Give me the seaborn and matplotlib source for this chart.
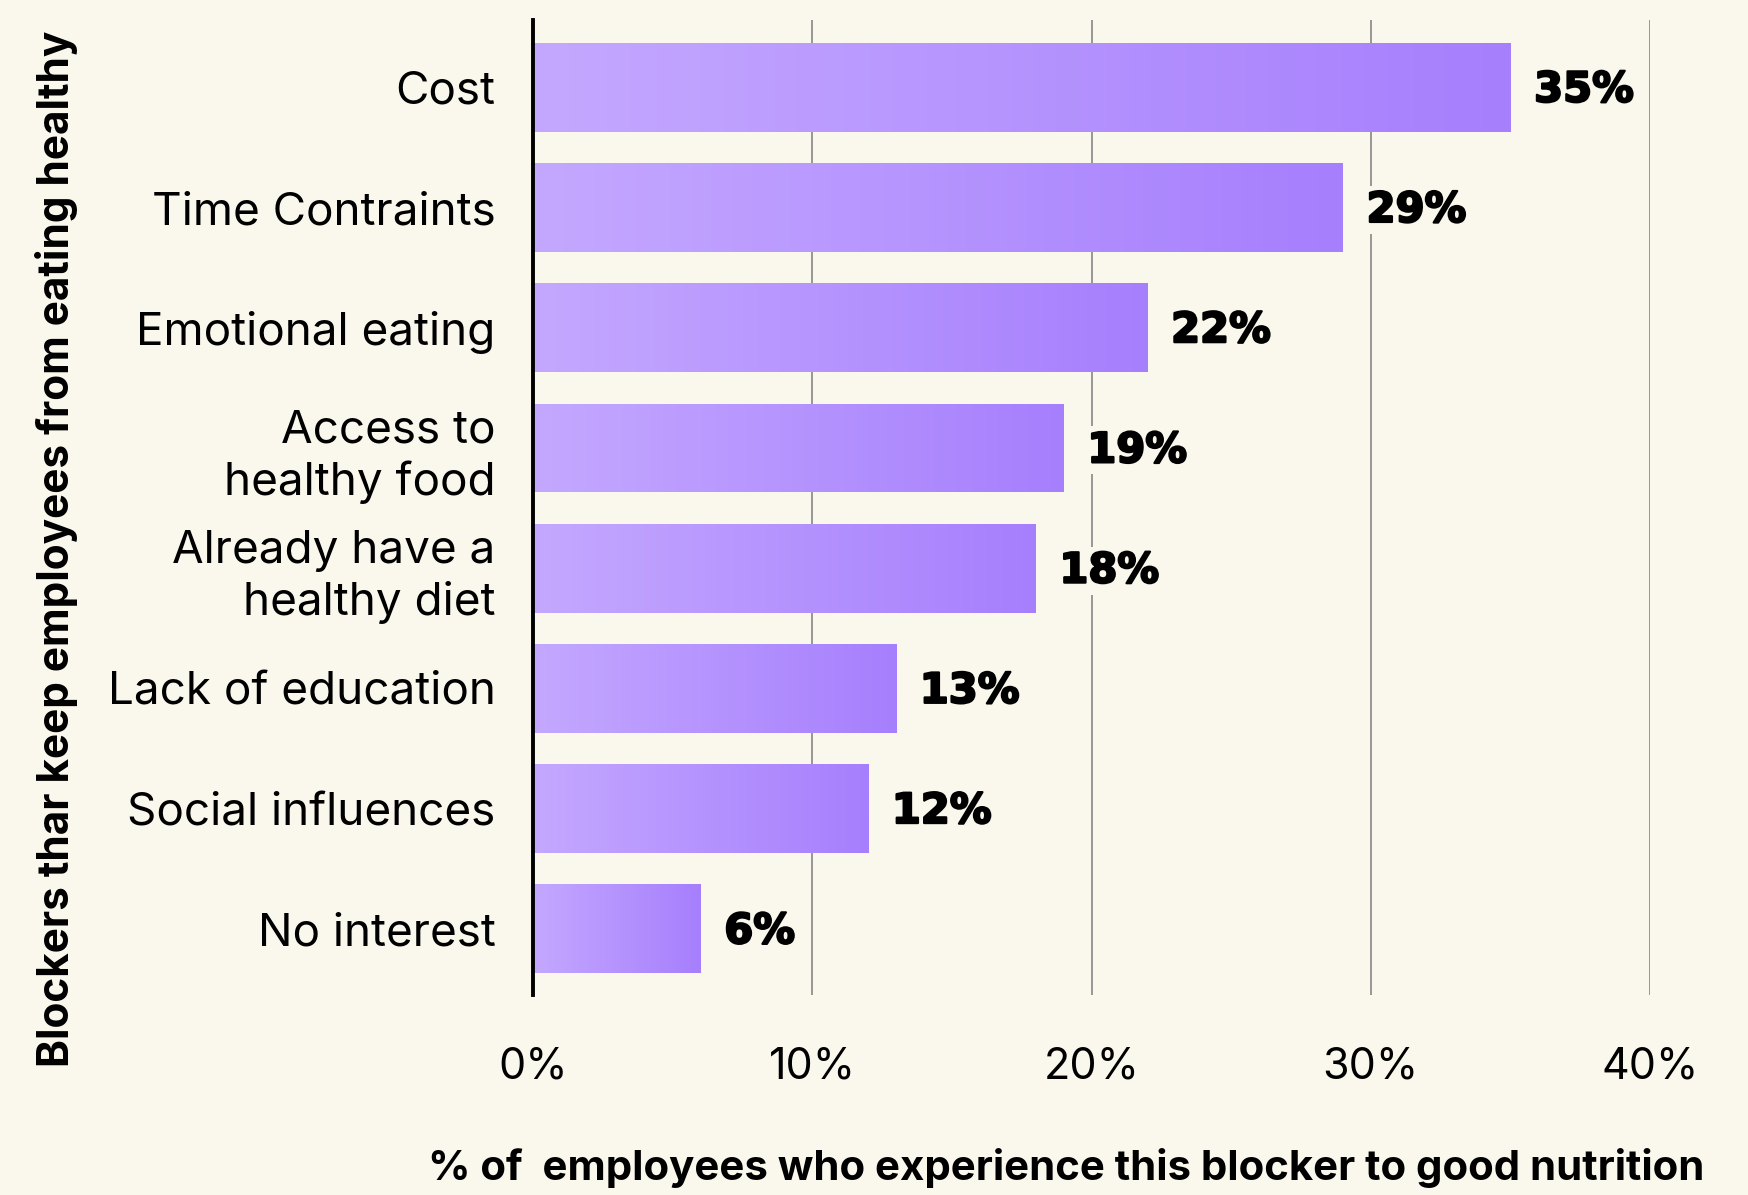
import numpy as np
import matplotlib
matplotlib.use("Agg")
import matplotlib.pyplot as plt
import matplotlib.patheffects as pe
import seaborn as sns
from matplotlib.colors import LinearSegmentedColormap

# Survey results: share of employees reporting each blocker
categories = [
    "Cost",
    "Time Contraints",
    "Emotional eating",
    "Access to\nhealthy food",
    "Already have a\nhealthy diet",
    "Lack of education",
    "Social influences",
    "No interest",
]
values = [35, 29, 22, 19, 18, 13, 12, 6]
x_ticks = [0, 10, 20, 30, 40]
x_tick_labels = ["0%", "10%", "20%", "30%", "40%"]

BG = "#faf8ec"
BAR_LIGHT = "#c4a8ff"
BAR_DARK = "#a67ffd"

sns.set_theme(style="white")
plt.rcParams["font.family"] = ["Inter", "DejaVu Sans"]
for key in ["text.color", "axes.labelcolor", "xtick.color", "ytick.color"]:
    plt.rcParams[key] = "black"

fig = plt.figure(figsize=(17.48, 11.95), dpi=100, facecolor=BG)
ax = fig.add_axes([533 / 1748, 1 - 995 / 1195, (1650 - 533) / 1748, (995 - 20) / 1195])
ax.set_facecolor(BG)

sns.barplot(x=values, y=categories, orient="h", width=0.74, color=BAR_DARK, ax=ax, zorder=2)

# Horizontal gradient fill for every bar, clipped to the bar's own rectangle
cmap = LinearSegmentedColormap.from_list("bar", [BAR_LIGHT, BAR_DARK])
grad = np.linspace(0, 1, 256).reshape(1, -1)
for patch in ax.patches:
    x0, y0 = patch.get_x(), patch.get_y()
    w, h = patch.get_width(), patch.get_height()
    im = ax.imshow(grad, cmap=cmap, aspect="auto", extent=(x0, x0 + w, y0 + h, y0),
                   zorder=2, interpolation="bilinear")
    im.set_clip_path(patch)
    patch.set_facecolor("none")
    patch.set_edgecolor("none")

ax.set_xlim(0, 40)
ax.set_ylim(len(categories) - 0.45, -0.56)

# Value labels next to each bar
for i, v in enumerate(values):
    ax.text(v + 0.85, i + 0.02, f"{v}%", va="center", ha="left",
            fontsize=30, fontweight="bold", family=["DejaVu Sans"], color="black",
            zorder=4, bbox=dict(facecolor=BG, edgecolor="none", pad=2),
            path_effects=[pe.withStroke(linewidth=1.6, foreground="black")])

ax.set_xticks(x_ticks)
ax.set_xticklabels(x_tick_labels)
ax.tick_params(axis="x", length=0, pad=37, labelsize=31)
ax.tick_params(axis="y", length=0, pad=27, labelsize=33)
for lbl in ax.get_yticklabels():
    lbl.set_linespacing(1.25)

ax.grid(axis="x", color="#8f8f8f", linewidth=1.3, zorder=1)
ax.grid(axis="y", visible=False)
ax.set_axisbelow(True)

for side in ["top", "right", "bottom"]:
    ax.spines[side].set_visible(False)
ax.spines["left"].set_color("black")
ax.spines["left"].set_linewidth(2.8)
ax.spines["left"].set_zorder(5)

ax.set_xlabel("% of  employees who experience this blocker to good nutrition",
              fontsize=30.2, fontweight="bold")
ax.xaxis.set_label_coords((1066 - 533) / (1650 - 533), (995 - 1168) / (995 - 20))
ax.xaxis.label.set_va("center")

ax.set_ylabel("Blockers thar keep employees from eating healthy",
              fontsize=30.5, fontweight="bold")
ax.yaxis.set_label_coords((56 - 533) / (1650 - 533), (995 - 549) / (995 - 20))
ax.yaxis.label.set_va("center")

fig.savefig("out.png", dpi=100, facecolor=BG)
